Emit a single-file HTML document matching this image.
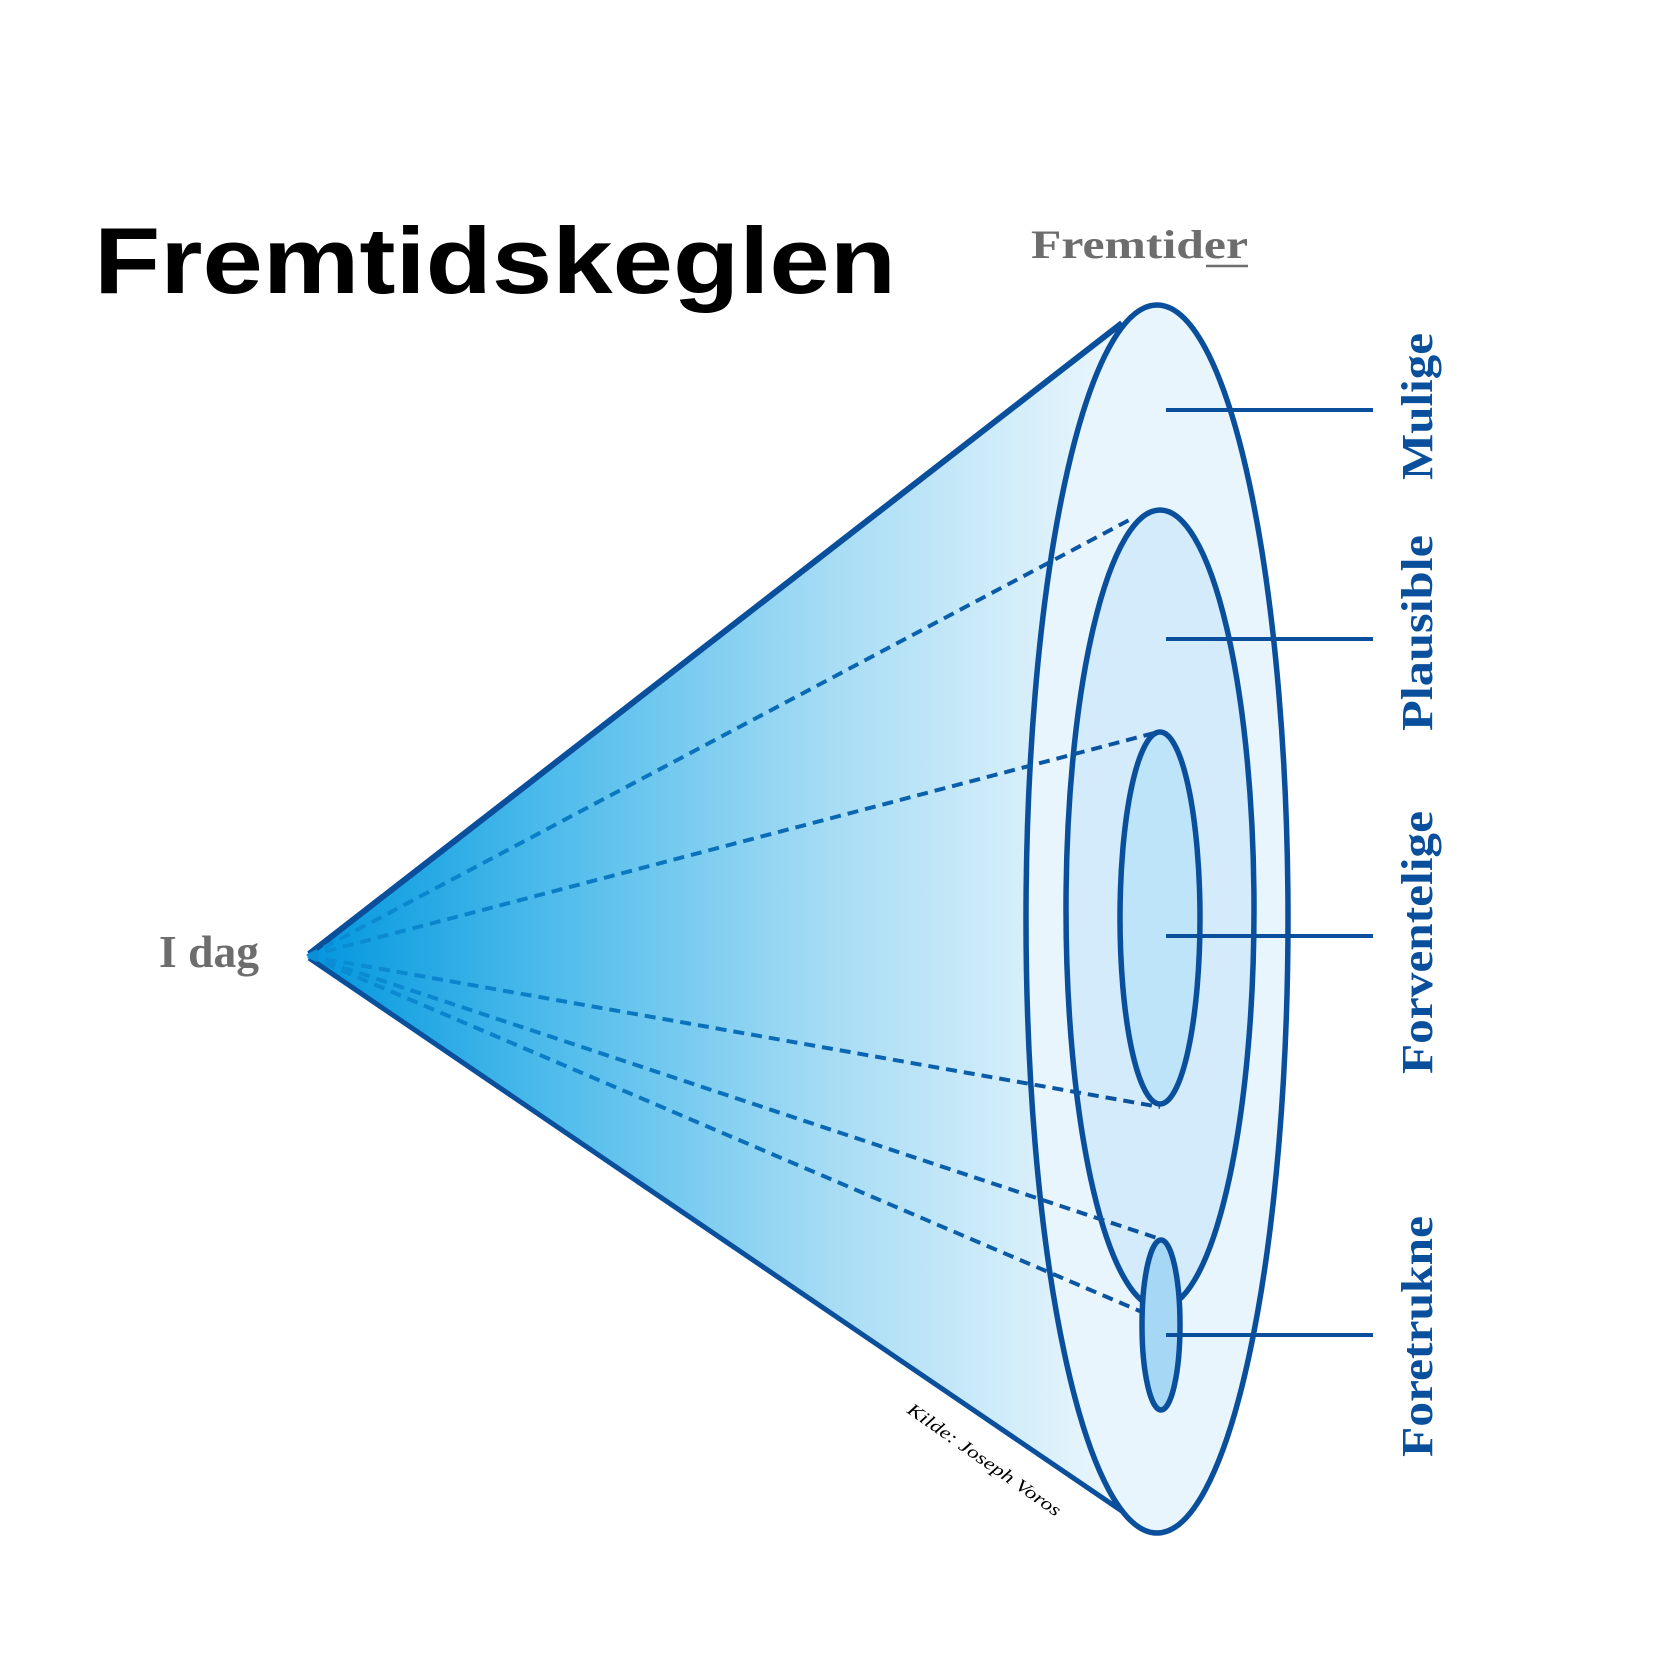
<!DOCTYPE html>
<html><head><meta charset="utf-8"><style>html,body{margin:0;padding:0;background:#fff}svg{display:block}</style></head>
<body>
<svg width="1667" height="1667" viewBox="0 0 1667 1667" xmlns="http://www.w3.org/2000/svg">
<defs>
<linearGradient id="cone" x1="306" y1="0" x2="1110" y2="0" gradientUnits="userSpaceOnUse">
<stop offset="0" stop-color="#0096de"/>
<stop offset="0.3" stop-color="#4dbbeb"/>
<stop offset="0.65" stop-color="#a6dcf4"/>
<stop offset="1" stop-color="#eaf6fd"/>
</linearGradient>
<linearGradient id="dash" x1="306" y1="0" x2="1160" y2="0" gradientUnits="userSpaceOnUse">
<stop offset="0" stop-color="#0a8fd6"/>
<stop offset="1" stop-color="#0a4f9c"/>
</linearGradient>
</defs>
<text x="94" y="293" font-family="Liberation Sans, sans-serif" font-weight="bold" font-size="94" textLength="802" lengthAdjust="spacingAndGlyphs" fill="#000">Fremtidskeglen</text>
<text x="1031" y="258" font-family="Liberation Serif, serif" font-weight="bold" font-size="40" textLength="217" lengthAdjust="spacingAndGlyphs" fill="#6d6d6d">Fremtider</text>
<line x1="1206" y1="266" x2="1248" y2="266" stroke="#6d6d6d" stroke-width="2.5"/>
<text x="159" y="967" font-family="Liberation Serif, serif" font-weight="bold" font-size="46" textLength="100" lengthAdjust="spacingAndGlyphs" fill="#6d6d6d">I dag</text>

<path d="M306 955 L1120 323 L1157 304 L1157 1534 L1136 1520 Z" fill="url(#cone)"/>
<line x1="309" y1="954" x2="1122" y2="323" stroke="#0a4f9c" stroke-width="6"/>
<line x1="309" y1="958" x2="1138" y2="1522" stroke="#0a4f9c" stroke-width="5"/>
<ellipse cx="1157" cy="919" rx="131" ry="614" fill="#e8f5fd" stroke="#0a4f9c" stroke-width="5.5"/>
<ellipse cx="1160" cy="909" rx="94" ry="399" fill="#d3ebfa" stroke="#0a4f9c" stroke-width="5.5"/>
<ellipse cx="1160" cy="918" rx="40" ry="186" fill="#bde4f8" stroke="#0a4f9c" stroke-width="5.5"/>
<g stroke="url(#dash)" stroke-width="4" stroke-dasharray="11 7" fill="none">
<line x1="308" y1="956" x2="1133" y2="518"/>
<line x1="308" y1="956" x2="1158" y2="732"/>
<line x1="308" y1="956" x2="1160" y2="1107"/>
<line x1="308" y1="956" x2="1163" y2="1240"/>
<line x1="308" y1="956" x2="1142" y2="1312"/>
</g>
<ellipse cx="1161" cy="1325" rx="19" ry="85" fill="#a6d8f5" stroke="#0a4f9c" stroke-width="5.5"/>
<g stroke="#0a4f9c" stroke-width="4">
<line x1="1166" y1="410" x2="1373" y2="410"/>
<line x1="1166" y1="639" x2="1373" y2="639"/>
<line x1="1166" y1="936" x2="1373" y2="936"/>
<line x1="1166" y1="1335" x2="1373" y2="1335"/>
</g>
<g font-family="Liberation Serif, serif" font-weight="bold" font-size="44" fill="#0a4f9c">
<text transform="translate(1432,480) rotate(-90)" textLength="147" lengthAdjust="spacingAndGlyphs">Mulige</text>
<text transform="translate(1432,731) rotate(-90)" textLength="196" lengthAdjust="spacingAndGlyphs">Plausible</text>
<text transform="translate(1432,1074) rotate(-90)" textLength="263" lengthAdjust="spacingAndGlyphs">Forventelige</text>
<text transform="translate(1432,1457) rotate(-90)" textLength="241" lengthAdjust="spacingAndGlyphs">Foretrukne</text>
</g>
<text transform="translate(906,1412) rotate(35)" font-family="Liberation Serif, serif" font-style="italic" font-size="18" textLength="183" lengthAdjust="spacingAndGlyphs" fill="#000">Kilde: Joseph Voros</text>
</svg>
</body></html>
